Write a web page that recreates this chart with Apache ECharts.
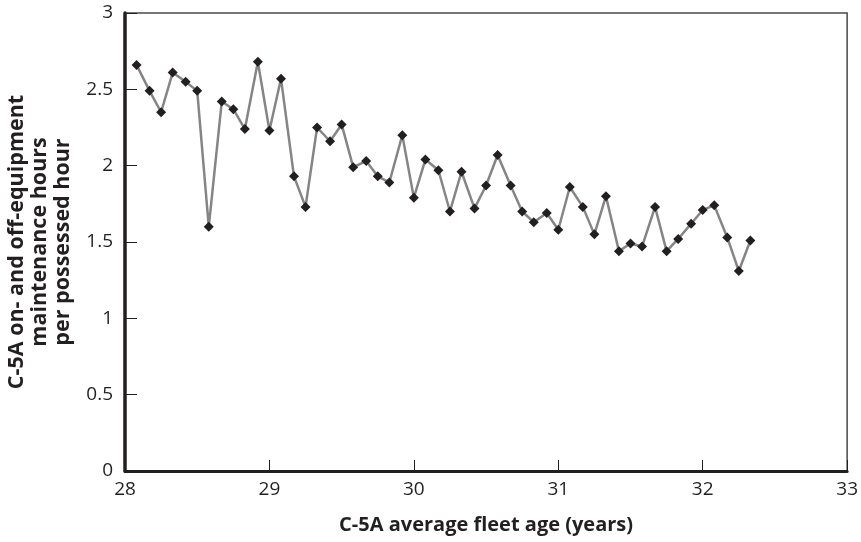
<!DOCTYPE html>
<html>
<head>
<meta charset="utf-8">
<script src="https://cdn.jsdelivr.net/npm/echarts@6/dist/echarts.min.js"></script>
<style>html,body{margin:0;padding:0;background:#fff}#c{width:861px;height:542px}</style>
</head>
<body>
<div id="c"></div>
<script>
const fleetAge = [28.08, 28.17, 28.25, 28.33, 28.42, 28.5, 28.58, 28.67, 28.75, 28.83, 28.92, 29,
  29.08, 29.17, 29.25, 29.33, 29.42, 29.5, 29.58, 29.67, 29.75, 29.83, 29.92, 30,
  30.08, 30.17, 30.25, 30.33, 30.42, 30.5, 30.58, 30.67, 30.75, 30.83, 30.92, 31,
  31.08, 31.17, 31.25, 31.33, 31.42, 31.5, 31.58, 31.67, 31.75, 31.83, 31.92, 32,
  32.08, 32.17, 32.25, 32.33];
const maintHours = [2.66, 2.49, 2.35, 2.61, 2.55, 2.49, 1.60, 2.42, 2.37, 2.24, 2.68, 2.23,
  2.57, 1.93, 1.73, 2.25, 2.16, 2.27, 1.99, 2.03, 1.93, 1.89, 2.20, 1.79,
  2.04, 1.97, 1.70, 1.96, 1.72, 1.87, 2.07, 1.87, 1.70, 1.63, 1.69, 1.58,
  1.86, 1.73, 1.55, 1.80, 1.44, 1.49, 1.47, 1.73, 1.44, 1.52, 1.62, 1.71,
  1.74, 1.53, 1.31, 1.51];
const xTitle = 'C-5A average fleet age (years)';
const yTitle = 'C-5A on- and off-equipment\nmaintenance hours\nper possessed hour';

const font = '"Open Sans", "Noto Sans", sans-serif';
const ink = '#231f20';
const chart = echarts.init(document.getElementById('c'));
chart.setOption({
  animation: false,
  grid: {left: 125, right: 13, top: 13, bottom: 71, show: true, borderColor: '#4a4a4a', borderWidth: 1.5, backgroundColor: 'transparent'},
  xAxis: {
    type: 'value', min: 28, max: 33, interval: 1,
    name: xTitle, nameLocation: 'middle', nameGap: 44,
    nameTextStyle: {fontFamily: font, fontWeight: 'bold', fontSize: 20, color: ink},
    axisLine: {lineStyle: {color: ink, width: 3}},
    axisTick: {inside: true, length: 11, lineStyle: {color: ink, width: 1}},
    axisLabel: {fontFamily: font, fontSize: 19, color: ink, margin: 9},
    splitLine: {show: false}
  },
  yAxis: {
    type: 'value', min: 0, max: 3, interval: 0.5,
    axisLine: {show: true, lineStyle: {color: ink, width: 3.5}},
    axisTick: {show: true, inside: true, length: 12, lineStyle: {color: ink, width: 1}},
    axisLabel: {fontFamily: font, fontSize: 19, color: ink, margin: 12},
    splitLine: {show: false}
  },
  graphic: [{
    type: 'text', x: 40, y: 242, rotation: Math.PI / 2,
    style: {text: yTitle, fill: ink, fontFamily: font, fontWeight: 'bold', fontSize: 21.5, align: 'center', verticalAlign: 'middle', lineHeight: 23}
  }],
  series: [{
    type: 'line',
    data: fleetAge.map((a, i) => [a, maintHours[i]]),
    symbol: 'diamond', symbolSize: 10,
    itemStyle: {color: ink},
    lineStyle: {color: '#858585', width: 2.5}
  }]
});
</script>
</body>
</html>
